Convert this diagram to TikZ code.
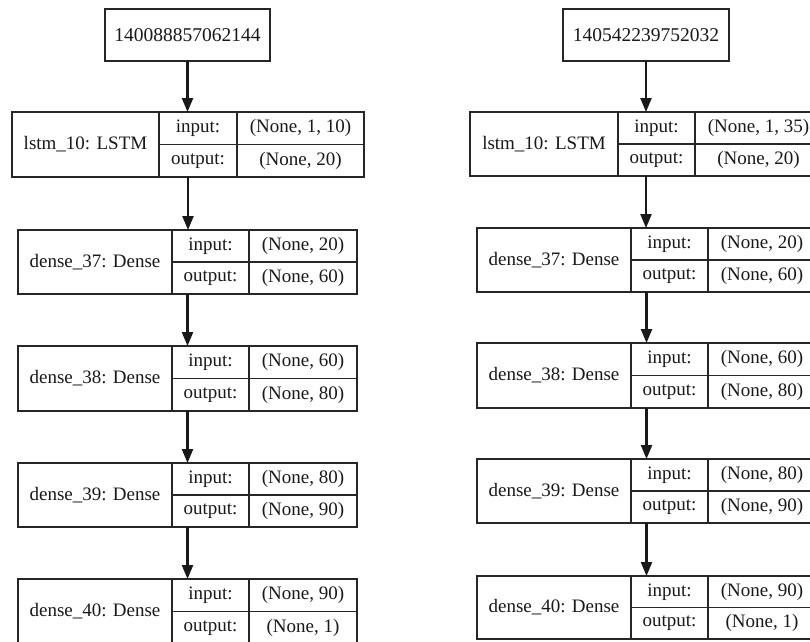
\documentclass[tikz,border=0pt]{standalone}
\usepackage{fontspec}
\setmainfont{Liberation Serif}
\usetikzlibrary{arrows.meta}
\tikzset{
  boxline/.style={draw=black!85, line width=1.3pt},
  outer/.style={boxline, rectangle, inner sep=0pt, outer sep=0pt},
  txt/.style={inner sep=0pt, outer sep=0pt, font=\fontsize{19}{21}\selectfont, text=black!90},
  toptxt/.style={txt, font=\fontsize{19.5}{21}\selectfont},
  flow/.style={draw=black!90, line width=2.3pt, -{Triangle[length=14pt,width=11pt]}}
}
% column constants: \xl left, \xa first divider, \xb second divider, \xr right
\newcommand\lyr[6]{%
  % #1 name, #2 top, #3 bottom, #4 title, #5 input shape, #6 output shape
  \pgfmathsetmacro\lw{\xr-\xl}%
  \pgfmathsetmacro\lh{#3-#2}%
  \pgfmathsetmacro\lcx{(\xr+\xl)/2}%
  \pgfmathsetmacro\lcy{(#3+#2)/2}%
  \node[outer, minimum width=\lw pt, minimum height=\lh pt] (#1) at (\lcx,\lcy) {};
  \draw[boxline] (\xa,#2) -- (\xa,#3);
  \draw[boxline] (\xb,#2) -- (\xb,#3);
  \draw[boxline] (\xa,\lcy) -- (\xr,\lcy);
  \node[txt] (#1t) at ({(\xl+\xa)/2},\lcy) {#4};
  \node[txt] (#1il) at ({(\xa+\xb)/2},{(#2+\lcy)/2}) {input:};
  \node[txt] (#1ol) at ({(\xa+\xb)/2},{(#3+\lcy)/2}) {output:};
  \node[txt] (#1iv) at ({(\xb+\xr)/2},{(#2+\lcy)/2}) {#5};
  \node[txt] (#1ov) at ({(\xb+\xr)/2},{(#3+\lcy)/2}) {#6};
}
\begin{document}
\begin{tikzpicture}[x=1pt,y=-1pt]
\useasboundingbox (0,0) rectangle (810,641);
\clip (0,0) rectangle (810,641);
\fill[white] (0,0) rectangle (810,641);

% ---------- left model ----------
\node[outer, minimum width=165pt, minimum height=52pt] (T1) at (187.5,35) {};
\node[toptxt] (T1t) at (T1.center) {140088857062144};
\def\xl{12}\def\xa{159}\def\xb{237}\def\xr{364}
\lyr{A1}{112}{177}{lstm\_10: LSTM}{(None, 1, 10)}{(None, 20)}
\def\xl{18}\def\xa{172}\def\xb{249}\def\xr{357}
\lyr{A2}{230}{294}{dense\_37: Dense}{(None, 20)}{(None, 60)}
\lyr{A3}{346}{411}{dense\_38: Dense}{(None, 60)}{(None, 80)}
\lyr{A4}{463}{527}{dense\_39: Dense}{(None, 80)}{(None, 90)}
\lyr{A5}{579}{644}{dense\_40: Dense}{(None, 90)}{(None, 1)}

\draw[flow] (T1.south) -- (T1.south |- A1.north);
\draw[flow] (A1.south) -- (A1.south |- A2.north);
\draw[flow] (A2.south) -- (A2.south |- A3.north);
\draw[flow] (A3.south) -- (A3.south |- A4.north);
\draw[flow] (A4.south) -- (A4.south |- A5.north);

% ---------- right model ----------
\node[outer, minimum width=166pt, minimum height=52pt] (T2) at (646,35) {};
\node[toptxt] (T2t) at (T2.center) {140542239752032};
\def\xl{470}\def\xa{618}\def\xb{695}\def\xr{822}
\lyr{B1}{112}{176}{lstm\_10: LSTM}{(None, 1, 35)}{(None, 20)}
\def\xl{477}\def\xa{631}\def\xb{708}\def\xr{816}
\lyr{B2}{228}{292}{dense\_37: Dense}{(None, 20)}{(None, 60)}
\lyr{B3}{343}{408}{dense\_38: Dense}{(None, 60)}{(None, 80)}
\lyr{B4}{459}{523}{dense\_39: Dense}{(None, 80)}{(None, 90)}
\lyr{B5}{576}{639}{dense\_40: Dense}{(None, 90)}{(None, 1)}

\draw[flow] (T2.south) -- (T2.south |- B1.north);
\draw[flow] (B1.south) -- (B1.south |- B2.north);
\draw[flow] (B2.south) -- (B2.south |- B3.north);
\draw[flow] (B3.south) -- (B3.south |- B4.north);
\draw[flow] (B4.south) -- (B4.south |- B5.north);
\end{tikzpicture}
\end{document}
